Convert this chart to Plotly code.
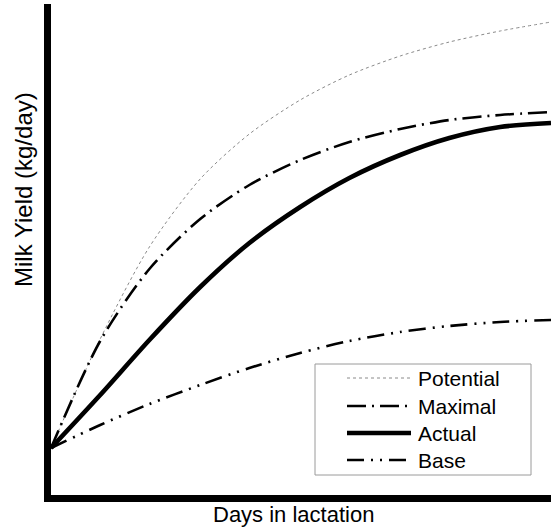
import plotly.graph_objects as go

# ---- data ----
days = [0, 30, 60, 91, 121, 152, 182, 213, 243, 274, 305]
potential_yield = [4.7, 15.6, 24.8, 31.6, 36.1, 39.5, 42.0, 43.9, 45.3, 46.4, 47.3]
maximal_yield = [4.7, 15.4, 22.6, 27.6, 31.0, 33.5, 35.3, 36.6, 37.5, 38.0, 38.3]
actual_yield = [4.7, 10.0, 15.5, 20.8, 25.2, 28.8, 31.7, 34.0, 35.7, 36.8, 37.2]
base_yield = [4.7, 7.0, 9.1, 11.0, 12.7, 14.2, 15.4, 16.3, 16.9, 17.3, 17.5]

series_names = ["Potential", "Maximal", "Actual", "Base"]

# ---- layout geometry ----
W, H = 551, 531
L, R, T, B = 51, 551, 4, 495
FONT = "Liberation Sans, Arial, Helvetica, sans-serif"


def px(x):
    return (x - L) / (R - L)


def py(y):
    return (B - y) / (B - T)


styles = {
    "Potential": dict(color="#8a8a8a", width=1, dash="dot"),
    "Maximal": dict(color="black", width=2.6, dash="19px,6px,2px,6px"),
    "Actual": dict(color="black", width=4.6, dash="solid"),
    "Base": dict(color="black", width=2.6, dash="17px,7px,2px,7px,2px,7px"),
}

data = {
    "Potential": potential_yield,
    "Maximal": maximal_yield,
    "Actual": actual_yield,
    "Base": base_yield,
}

fig = go.Figure()
for name in series_names:
    fig.add_trace(go.Scatter(x=days, y=data[name], mode="lines", name=name,
                             line=dict(shape="spline", smoothing=0.8, **styles[name]),
                             showlegend=False, hoverinfo="skip"))

# ---- manual legend ----
shapes = [dict(type="rect", xref="paper", yref="paper",
               x0=px(315), x1=px(531), y0=py(475), y1=py(364),
               line=dict(color="#9a9a9a", width=1), fillcolor="white", layer="above")]
annotations = []
row_y = [378, 406, 433, 460]
for name, yy in zip(series_names, row_y):
    st = styles[name]
    shapes.append(dict(type="line", xref="paper", yref="paper",
                       x0=px(347), x1=px(411), y0=py(yy), y1=py(yy),
                       line=dict(color=st["color"], width=st["width"], dash=st["dash"]),
                       layer="above"))
    annotations.append(dict(text=name, xref="paper", yref="paper",
                            x=px(416), y=py(yy), xanchor="left", yanchor="middle",
                            showarrow=False, font=dict(size=21, color="black", family=FONT)))

annotations.append(dict(text="Days in lactation", xref="paper", yref="paper",
                        x=px(293), y=py(514), xanchor="center", yanchor="middle",
                        showarrow=False, font=dict(size=22, color="black", family=FONT)))
annotations.append(dict(text="Milk Yield (kg/day)", xref="paper", yref="paper",
                        x=px(23), y=py(190), xanchor="center", yanchor="middle", textangle=-90,
                        showarrow=False, font=dict(size=24, color="black", family=FONT)))

fig.update_layout(
    width=W, height=H,
    margin=dict(l=L, r=W - R, t=T, b=H - B, pad=0),
    paper_bgcolor="white", plot_bgcolor="white",
    font=dict(family=FONT, color="black"),
    xaxis=dict(range=[0, 305], showgrid=False, zeroline=False, showticklabels=False,
               ticks="", showline=True, linecolor="black", linewidth=7),
    yaxis=dict(range=[0, 49.1], showgrid=False, zeroline=False, showticklabels=False,
               ticks="", showline=True, linecolor="black", linewidth=7),
    shapes=shapes, annotations=annotations,
)

fig.write_html("out.html")
